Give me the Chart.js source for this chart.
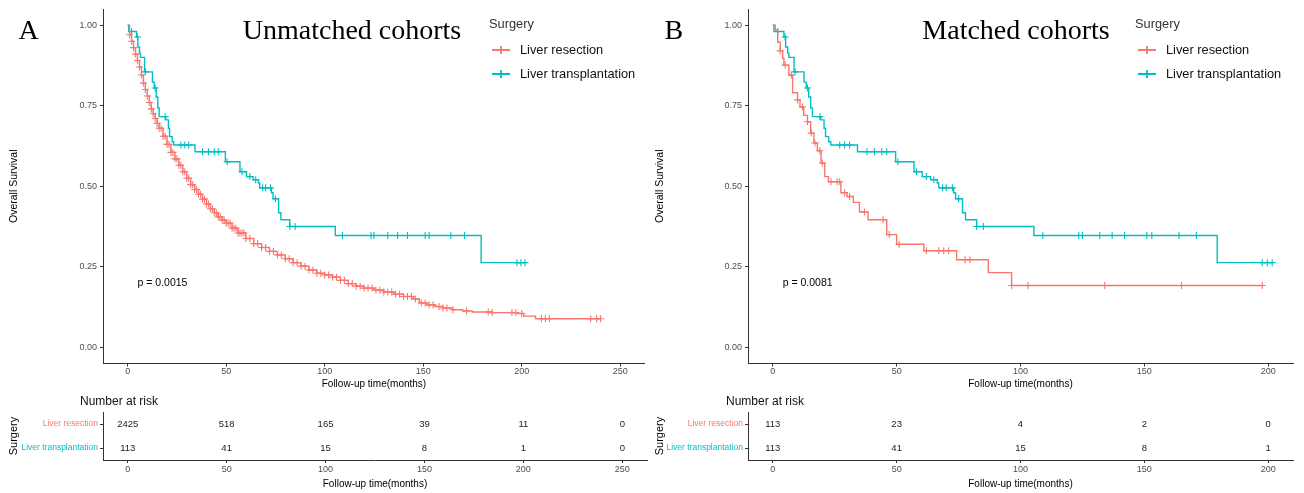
<!DOCTYPE html>
<html>
<head>
<meta charset="utf-8">
<script src="https://cdn.jsdelivr.net/npm/chart.js@4.4.1/dist/chart.umd.min.js"></script>
<style>
  body { margin: 0; background: #fff; width: 1304px; height: 493px; overflow: hidden; position: relative; }
  canvas { position: absolute; }
</style>
</head>
<body>
<canvas id="km-a" width="650" height="390" style="left:0;top:0"></canvas>
<canvas id="risk-a" width="650" height="103" style="left:0;top:390px"></canvas>
<canvas id="km-b" width="658" height="390" style="left:646px;top:0"></canvas>
<canvas id="risk-b" width="658" height="103" style="left:646px;top:390px"></canvas>
<script>
// 그룹과 색
var groups = ["Liver resection", "Liver transplantation"];
var colors = ["#F8766D", "#00BFC4"];

// 축 눈금
var survTicks = [0, 0.25, 0.5, 0.75, 1];
var timeTicksA = [0, 50, 100, 150, 200, 250];
var timeTicksB = [0, 50, 100, 150, 200];

// 미매칭 간절제 (A)
var lrAllTime = [0, 1, 2, 3, 4, 5, 6, 7, 8, 9, 10, 11, 12, 13, 14, 15, 16,
  18, 20, 22, 24, 26, 28, 30, 32, 34, 36, 38, 40, 42, 44, 46, 48, 50,
  53, 56, 60, 64, 68, 72, 76, 80, 84, 88, 92, 96, 100, 104, 108, 112, 116, 120,
  125, 130, 135, 140, 145, 148, 152, 156, 160, 165, 170, 175, 185, 198, 201, 207, 240];
var lrAllSurv = [1.0, 0.97, 0.95, 0.93, 0.91, 0.89, 0.87, 0.845, 0.82, 0.80, 0.78, 0.76, 0.74, 0.725, 0.71, 0.695, 0.68,
  0.655, 0.63, 0.605, 0.585, 0.565, 0.545, 0.525, 0.505, 0.49, 0.475, 0.46, 0.445, 0.43, 0.418, 0.405, 0.395, 0.385,
  0.37, 0.355, 0.338, 0.322, 0.31, 0.298, 0.287, 0.275, 0.263, 0.252, 0.24, 0.23, 0.225, 0.218, 0.208, 0.198, 0.19, 0.184,
  0.178, 0.172, 0.165, 0.158, 0.15, 0.138, 0.132, 0.127, 0.122, 0.117, 0.113, 0.11, 0.108, 0.105, 0.097, 0.089, 0.089];
var lrAllCensor = [1, 2, 3, 4, 5, 6, 7, 8, 9, 10, 11, 12, 13, 14, 15, 16, 17, 18, 19, 20,
  21, 22, 23, 24, 25, 26, 27, 28, 29, 30, 31, 32, 33, 34, 35, 36, 37, 38, 39, 40,
  41, 42, 43, 44, 45, 46, 47, 48, 49, 50, 51, 52, 53, 54, 55, 56, 57, 58, 59, 60,
  62, 64, 66, 68, 70, 72, 74, 76, 78, 80, 82, 84, 86, 88, 90, 92, 94, 96, 98, 100,
  102, 104, 106, 108, 110, 112, 114, 116, 118, 120, 122, 124, 126, 128, 130, 132, 134, 136, 138, 140,
  142, 144, 146, 149, 151, 153, 155, 158, 160, 162, 165, 172, 183, 185, 195, 197, 200, 210, 212, 214, 235, 238, 240];

// 간이식 (A, B 동일)
var ltTime = [0, 0.5, 4.5, 5.2, 6, 6.5, 8.6, 12.6, 13.5, 14.5, 15.3, 16, 19.4, 20.7, 21.3, 22.6, 23.4,
  34.2, 49.6, 57, 60.3, 63.7, 66.4, 67, 73, 73.8, 76.6, 77.8, 82.3, 105.4, 179.4, 201.6];
var ltSurv = [1, 0.98, 0.963, 0.932, 0.913, 0.90, 0.855, 0.823, 0.805, 0.777, 0.743, 0.716, 0.706, 0.68, 0.654, 0.638, 0.628,
  0.607, 0.576, 0.545, 0.53, 0.52, 0.51, 0.495, 0.48, 0.461, 0.418, 0.396, 0.375, 0.347, 0.263, 0.263];
var ltCensor = [2, 5, 9, 14, 19, 27, 29, 31, 38, 41, 44, 46, 50.5, 58, 62, 65, 68.5, 70, 72.5, 75,
  82.3, 85, 109, 123.5, 125, 132, 137, 142, 151, 153, 164, 171, 197.6, 199.6, 201.6];

// 매칭 간절제 (B)
var lrMatchTime = [0, 1, 2, 3, 4, 4.5, 6.5, 8, 10, 11, 12.5, 14, 15.3, 16.6, 18, 19.5, 21, 22.5, 27.5, 30,
  32.5, 35, 38.5, 46, 50, 61, 74.2, 87, 96.4, 197.6];
var lrMatchSurv = [1, 0.985, 0.947, 0.92, 0.897, 0.876, 0.845, 0.79, 0.768, 0.746, 0.72, 0.70, 0.665, 0.634, 0.61, 0.572, 0.53, 0.514, 0.48, 0.468,
  0.45, 0.42, 0.396, 0.35, 0.32, 0.30, 0.272, 0.232, 0.192, 0.192];
var lrMatchCensor = [3, 5, 7.5, 10, 12, 14, 15.5, 17, 19, 20, 23.5, 26, 27, 29, 31, 37, 44.5, 47, 51,
  62, 67, 69, 71, 77.6, 79.6, 96.4, 103, 134, 165, 197.6];

// 위험 대상자 수
var riskLrA = [2425, 518, 165, 39, 11, 0];
var riskLtA = [113, 41, 15, 8, 1, 0];
var riskLrB = [113, 23, 4, 2, 0];
var riskLtB = [113, 41, 15, 8, 1];

Chart.defaults.font.family = "'Liberation Sans', Arial, sans-serif";

// 계단 함수 값 (중도절단 표시 위치)
function stepAt(times, surv, t) {
  var s = surv[0];
  for (var i = 0; i < times.length; i++) {
    if (times[i] <= t) s = surv[i];
  }
  return s;
}

function curve(times, surv) {
  return times.map(function (t, i) { return { x: t, y: surv[i] }; });
}

function marks(times, surv, cens) {
  return cens.map(function (t) { return { x: t, y: stepAt(times, surv, t) }; });
}

function fixTicks(list) {
  return function (scale) {
    scale.ticks = list.map(function (v) { return { value: v }; });
  };
}

// 제목, 범례, p값
function kmDecor(opt) {
  return {
    id: "kmDecor",
    afterDraw: function (chart) {
      var ctx = chart.ctx;
      var x = chart.scales.x, y = chart.scales.y;
      ctx.save();
      ctx.fillStyle = "#000";
      ctx.textBaseline = "alphabetic";
      ctx.font = "28px 'Liberation Serif', 'Times New Roman', serif";
      ctx.textAlign = "left";
      ctx.fillText(opt.letter, 18.5, 38.5);
      ctx.textAlign = "center";
      ctx.fillText(opt.title, opt.titleX, 38.5);

      ctx.textAlign = "left";
      ctx.textBaseline = "middle";
      ctx.font = "10.5px 'Liberation Sans', Arial, sans-serif";
      ctx.fillText(opt.pval, x.getPixelForValue(opt.pvalT), y.getPixelForValue(0.2));

      ctx.font = "12.8px 'Liberation Sans', Arial, sans-serif";
      ctx.fillStyle = "#333";
      ctx.fillText("Surgery", 489, 24.5);
      groups.forEach(function (g, i) {
        var ly = 50 + i * 24;
        ctx.strokeStyle = colors[i];
        ctx.lineWidth = 1.8;
        ctx.beginPath();
        ctx.moveTo(492, ly); ctx.lineTo(510, ly);
        ctx.moveTo(501, ly - 4); ctx.lineTo(501, ly + 4);
        ctx.stroke();
        ctx.fillStyle = "#111";
        ctx.fillText(g, 520, ly);
      });
      ctx.restore();
    }
  };
}

function kmChart(id, opt) {
  new Chart(document.getElementById(id), {
    type: "line",
    data: {
      datasets: [
        { data: curve(opt.lr[0], opt.lr[1]), borderColor: colors[0], borderWidth: 1.4, stepped: "before", pointRadius: 0, fill: false },
        { data: curve(ltTime, ltSurv), borderColor: colors[1], borderWidth: 1.4, stepped: "before", pointRadius: 0, fill: false },
        { data: marks(opt.lr[0], opt.lr[1], opt.lr[2]), showLine: false, pointStyle: "cross", pointRadius: 3.5, borderColor: colors[0], pointBorderWidth: 1.1 },
        { data: marks(ltTime, ltSurv, ltCensor), showLine: false, pointStyle: "cross", pointRadius: 3.5, borderColor: colors[1], pointBorderWidth: 1.1 }
      ]
    },
    options: {
      responsive: false,
      animation: false,
      layout: { padding: { left: 0, right: opt.right, top: 9, bottom: 0 } },
      plugins: { legend: { display: false }, tooltip: { enabled: false } },
      scales: {
        x: {
          type: "linear", min: opt.xmin, max: opt.xmax,
          afterBuildTicks: fixTicks(opt.xticks),
          afterFit: function (s) { s.height = 26.5; },
          grid: { drawOnChartArea: false, tickLength: 3, color: "#333" },
          border: { color: "#333", width: 1 },
          ticks: { font: { size: 9 }, color: "#4d4d4d", padding: 0, maxRotation: 0 },
          title: { display: true, text: "Follow-up time(months)", font: { size: 10 }, color: "#000", padding: 0 }
        },
        y: {
          type: "linear", min: -0.05, max: 1.05,
          afterBuildTicks: fixTicks(survTicks),
          afterFit: function (s) { s.width = opt.yw; },
          grid: { drawOnChartArea: false, tickLength: 3, color: "#333" },
          border: { color: "#333", width: 1 },
          ticks: { font: { size: 9 }, color: "#4d4d4d", padding: 3, callback: function (v) { return v.toFixed(2); } },
          title: { display: true, text: "Overall Survival", font: { size: 10.5 }, color: "#000", padding: { top: 7.7, bottom: 0 } }
        }
      }
    },
    plugins: [kmDecor(opt)]
  });
}

// 위험표 숫자
var riskText = {
  id: "riskText",
  afterDatasetsDraw: function (chart) {
    var ctx = chart.ctx;
    var rows = chart.options.plugins.riskText.rows;
    ctx.save();
    ctx.font = "9.5px 'Liberation Sans', Arial, sans-serif";
    ctx.fillStyle = "#222";
    ctx.textAlign = "center";
    ctx.textBaseline = "middle";
    rows.forEach(function (vals, g) {
      chart.getDatasetMeta(g).data.forEach(function (pt, i) {
        ctx.fillText(String(vals[i]), pt.x, pt.y);
      });
    });
    ctx.font = "12px 'Liberation Sans', Arial, sans-serif";
    ctx.textAlign = "left";
    ctx.fillStyle = "#111";
    ctx.fillText("Number at risk", 80, 12);
    ctx.restore();
  }
};

function riskChart(id, opt) {
  var ds = opt.rows.map(function (vals, g) {
    return { data: opt.xticks.map(function (t) { return { x: t, y: g + 1 }; }), showLine: false, pointRadius: 0 };
  });
  new Chart(document.getElementById(id), {
    type: "line",
    data: { datasets: ds },
    options: {
      responsive: false,
      animation: false,
      layout: { padding: { left: 0, right: opt.right, top: 22, bottom: 0 } },
      plugins: { legend: { display: false }, tooltip: { enabled: false }, riskText: { rows: opt.rows } },
      scales: {
        x: {
          type: "linear", min: opt.xmin, max: opt.xmax,
          afterBuildTicks: fixTicks(opt.xticks),
          afterFit: function (s) { s.height = 33; },
          grid: { drawOnChartArea: false, tickLength: 3, color: "#333" },
          border: { color: "#333", width: 1 },
          ticks: { font: { size: 9 }, color: "#4d4d4d", padding: 1.5, maxRotation: 0 },
          title: { display: true, text: "Follow-up time(months)", font: { size: 10 }, color: "#000", padding: { top: 0, bottom: 3 } }
        },
        y: {
          type: "linear", min: 0.5, max: 2.5, reverse: true,
          afterBuildTicks: fixTicks([1, 2]),
          afterFit: function (s) { s.width = opt.yw; },
          grid: { drawOnChartArea: false, tickLength: 3, color: "#333" },
          border: { color: "#333", width: 1 },
          ticks: {
            font: { size: 8.5 }, padding: 2,
            color: function (c) { return colors[c.tick.value - 1]; },
            callback: function (v) { return groups[v - 1]; }
          },
          title: { display: true, text: "Surgery", font: { size: 11 }, color: "#000", padding: { top: 7.4, bottom: 0 } }
        }
      }
    },
    plugins: [riskText]
  });
}

kmChart("km-a", {
  lr: [lrAllTime, lrAllSurv, lrAllCensor],
  xmin: -12.5, xmax: 262.5, xticks: timeTicksA, right: 3, yw: 103,
  letter: "A", title: "Unmatched cohorts", titleX: 352, pval: "p = 0.0015", pvalT: 5
});
kmChart("km-b", {
  lr: [lrMatchTime, lrMatchSurv, lrMatchCensor],
  xmin: -10, xmax: 210, xticks: timeTicksB, right: 11, yw: 102,
  letter: "B", title: "Matched cohorts", titleX: 370, pval: "p = 0.0081", pvalT: 4
});
riskChart("risk-a", { rows: [riskLrA, riskLtA], xmin: -12.5, xmax: 262.5, xticks: timeTicksA, right: 3, yw: 103 });
riskChart("risk-b", { rows: [riskLrB, riskLtB], xmin: -10, xmax: 210, xticks: timeTicksB, right: 11, yw: 102 });
</script>
</body>
</html>
